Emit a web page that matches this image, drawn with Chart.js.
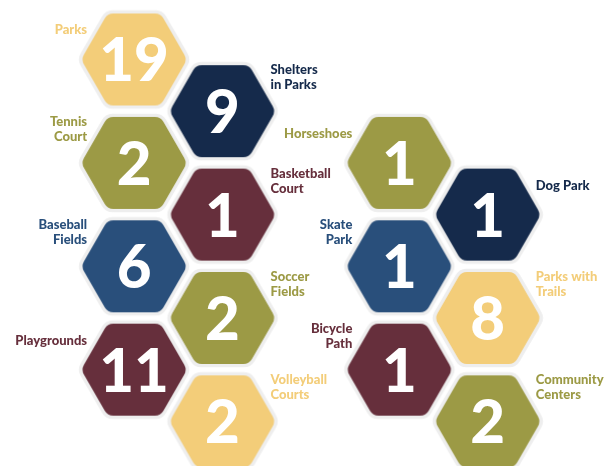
<!DOCTYPE html>
<html>
<head>
<meta charset="utf-8">
<script src="https://cdn.jsdelivr.net/npm/chart.js@4"></script>
<style>
  body { margin: 0; background: #fff; }
</style>
</head>
<body>
<canvas id="hexChart" width="604" height="466"></canvas>
<script>
let categories = ['Parks', 'Shelters\nin Parks', 'Tennis\nCourt', 'Basketball\nCourt', 'Baseball\nFields',
  'Soccer\nFields', 'Playgrounds', 'Volleyball\nCourts', 'Horseshoes', 'Dog Park', 'Skate\nPark',
  'Parks with\nTrails', 'Bicycle\nPath', 'Community\nCenters'];
let counts = [19, 9, 2, 1, 6, 2, 11, 2, 1, 1, 1, 8, 1, 2];
// honeycomb slot of each facility (column, row)
let gridCols = [0, 1, 0, 1, 0, 1, 0, 1, 3, 4, 3, 4, 3, 4];
let gridRows = [0, 1, 2, 3, 4, 5, 6, 7, 2, 3, 4, 5, 6, 7];
let colorIdx = [0, 1, 2, 3, 4, 2, 3, 0, 2, 1, 4, 0, 3, 2];
let palette = ['#f3cd79', '#152a4b', '#9c9a45', '#662f3c', '#294f7b'];

const R = 53;

function hexPath(ctx, cx, cy, r, corner) {
  let pts = [];
  for (let k = 0; k < 6; k++) {
    let a = Math.PI / 3 * k;
    pts.push([cx + r * Math.cos(a), cy + r * Math.sin(a)]);
  }
  ctx.beginPath();
  let m0 = [(pts[5][0] + pts[0][0]) / 2, (pts[5][1] + pts[0][1]) / 2];
  ctx.moveTo(m0[0], m0[1]);
  for (let k = 0; k < 6; k++) {
    let p = pts[k], n = pts[(k + 1) % 6];
    ctx.arcTo(p[0], p[1], n[0], n[1], corner);
  }
  ctx.closePath();
}

function makeHex(color) {
  let c = document.createElement('canvas');
  c.width = 2 * R + 12;
  c.height = 2 * R + 12;
  let g = c.getContext('2d');
  let m = c.width / 2;
  hexPath(g, m, m, R + 4, 12);
  g.fillStyle = '#eeeeee';
  g.fill();
  hexPath(g, m, m, R, 10);
  g.fillStyle = color;
  g.fill();
  return c;
}

let hexImages = palette.map(makeHex);

const hexText = {
  id: 'hexText',
  afterDatasetsDraw(chart) {
    let ctx = chart.ctx;
    let meta = chart.getDatasetMeta(0);
    ctx.save();
    meta.data.forEach((pt, i) => {
      ctx.fillStyle = '#ffffff';
      ctx.font = '900 60px Lato';
      ctx.textAlign = 'center';
      ctx.textBaseline = 'alphabetic';
      ctx.fillText(String(counts[i]), pt.x, pt.y + 22);

      let lines = categories[i].split('\n');
      let leftSide = gridCols[i] % 3 === 0;
      ctx.fillStyle = palette[colorIdx[i]];
      ctx.font = '900 13px Lato';
      ctx.textAlign = leftSide ? 'right' : 'left';
      let lx = leftSide ? pt.x - 47 : pt.x + 48;
      let first = lines.length === 1 ? pt.y - 25 : pt.y - 37;
      lines.forEach((ln, j) => ctx.fillText(ln, lx, first + j * 15));
    });
    ctx.restore();
  }
};

let chart = new Chart(document.getElementById('hexChart').getContext('2d'), {
  type: 'scatter',
  data: {
    labels: categories,
    datasets: [{
      data: gridCols.map((c, i) => ({ x: c, y: gridRows[i] })),
      pointStyle: colorIdx.map(k => hexImages[k]),
      pointRadius: 1,
      pointHoverRadius: 1,
      clip: false
    }]
  },
  options: {
    responsive: false,
    animation: false,
    layout: { padding: 0 },
    plugins: { legend: { display: false }, tooltip: { enabled: false } },
    scales: {
      x: { display: false, min: -1.494, max: 5.292 },
      y: { display: false, reverse: true, min: -1.112, max: 7.825 }
    }
  },
  plugins: [hexText]
});
</script>
</body>
</html>
